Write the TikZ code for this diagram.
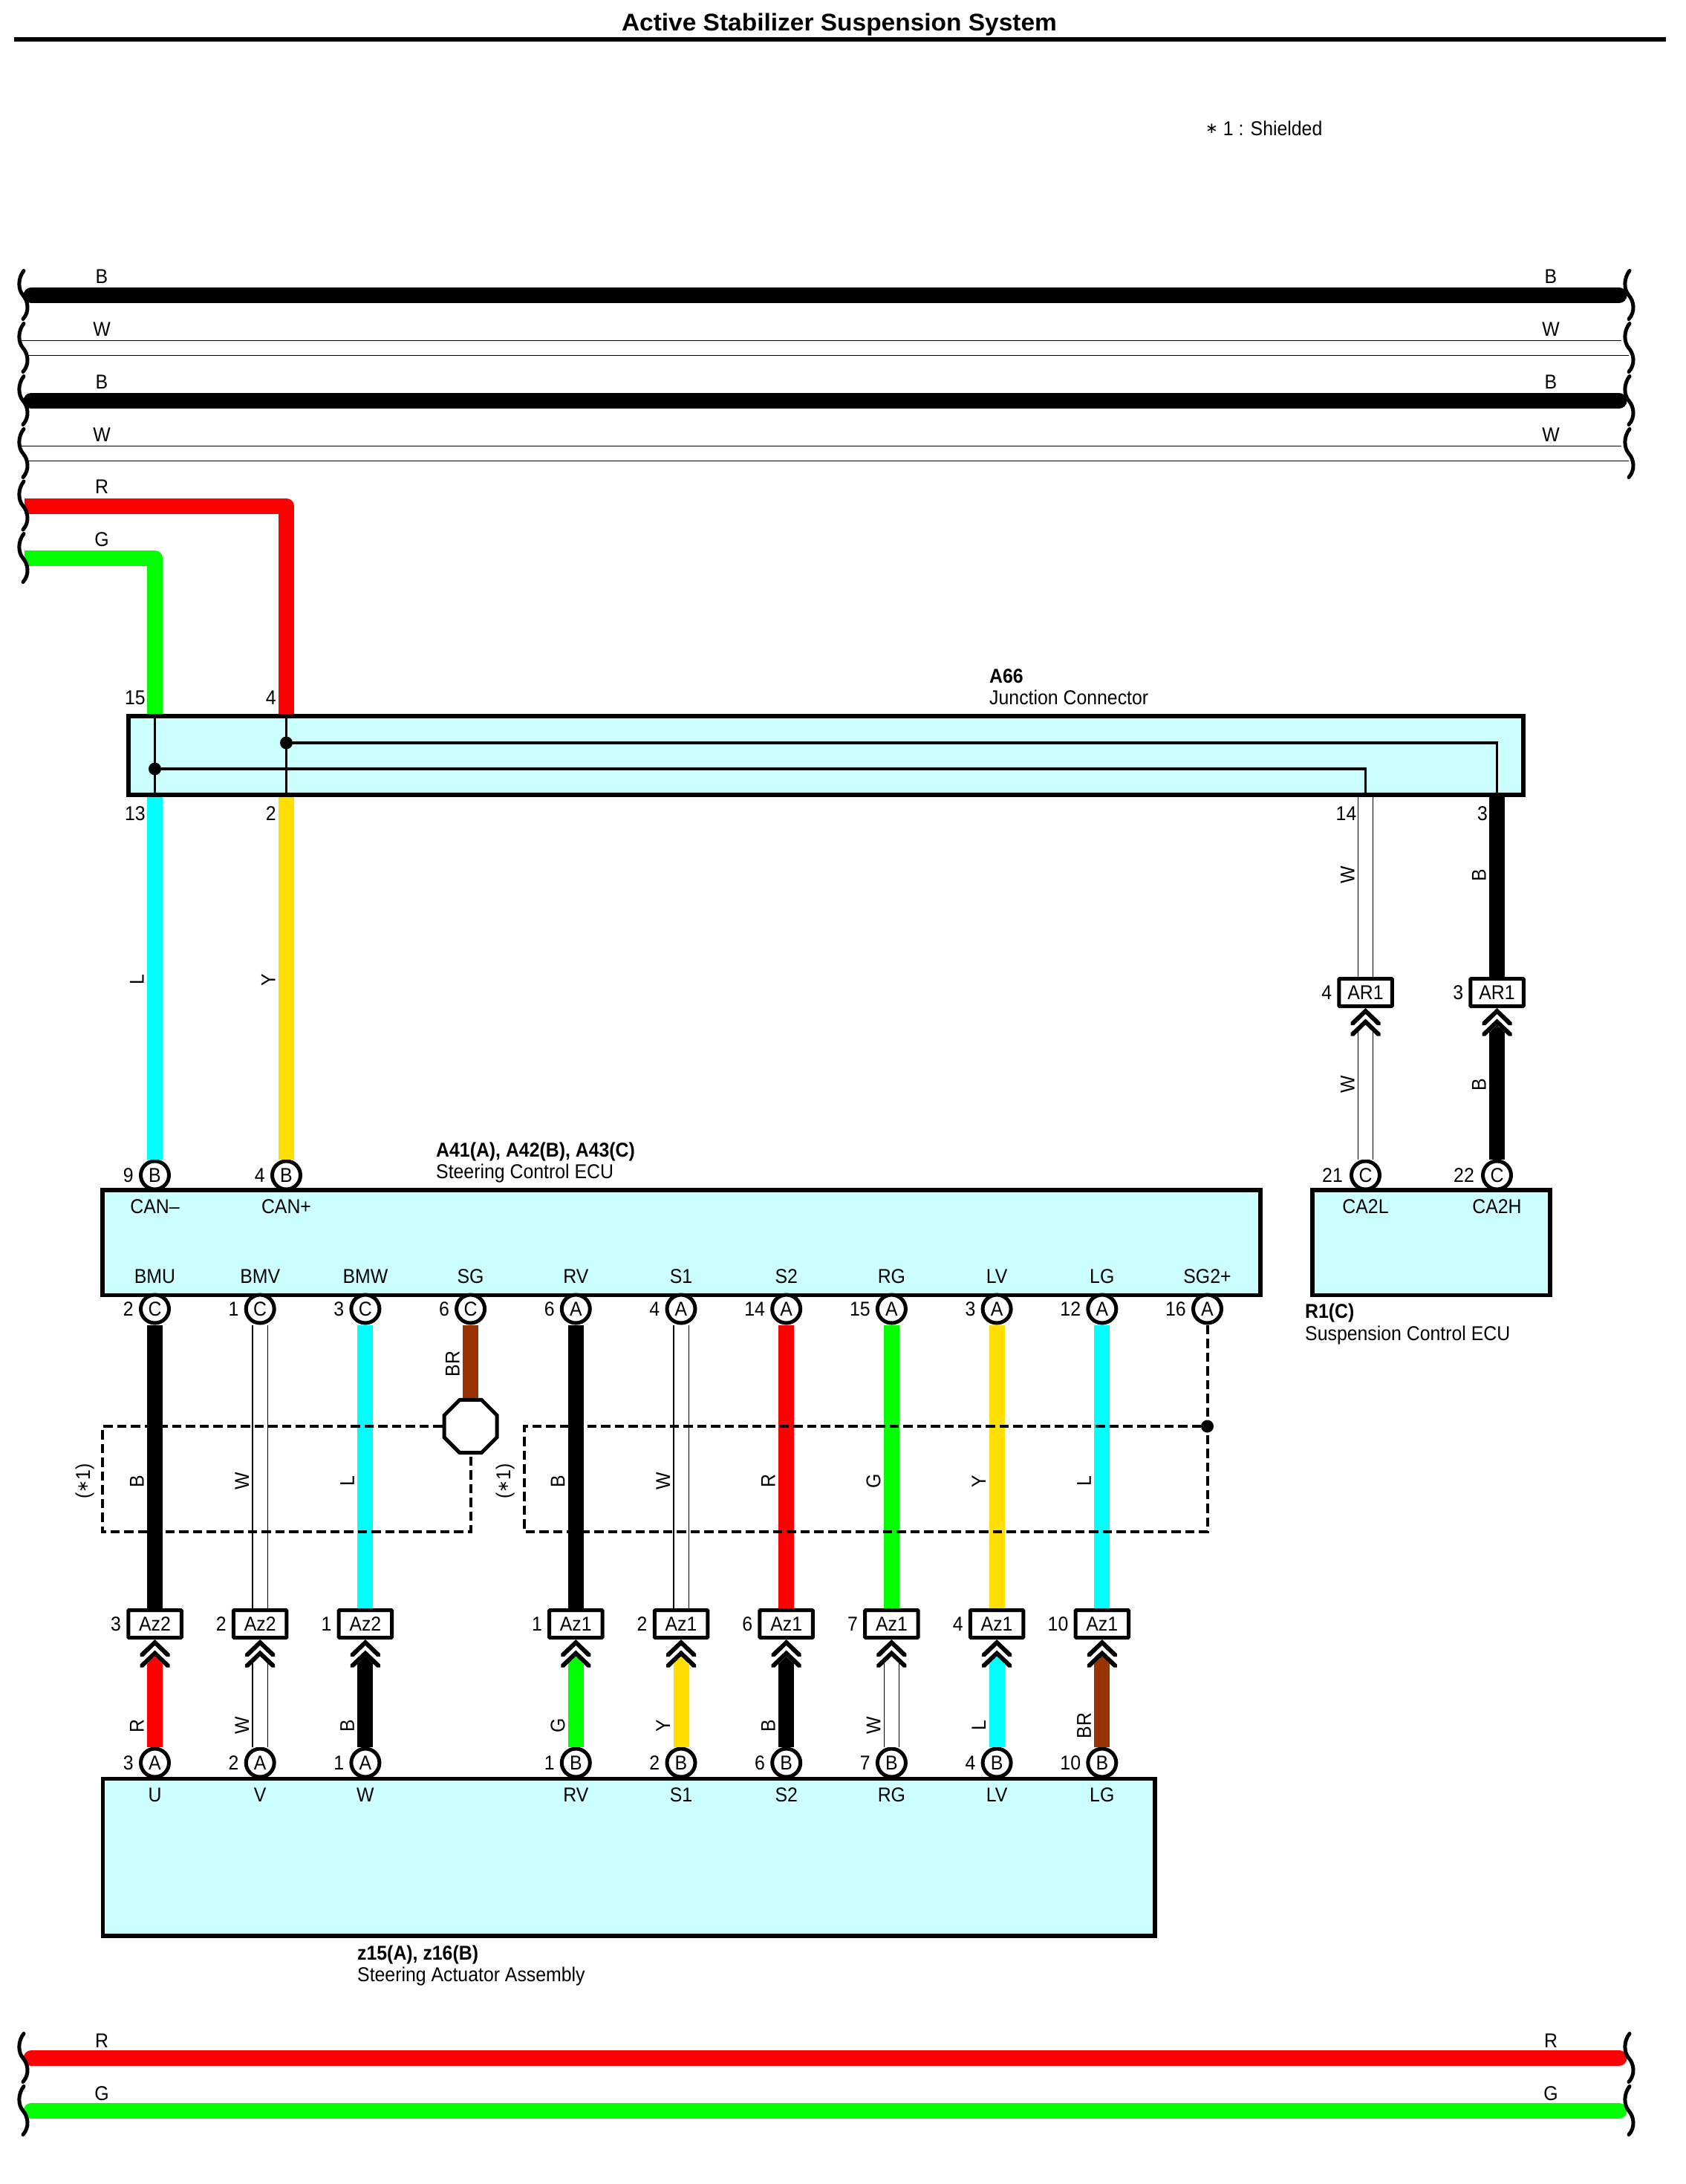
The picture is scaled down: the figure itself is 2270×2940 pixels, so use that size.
\documentclass[tikz,border=0pt]{standalone}
\usepackage{fontspec}
\setmainfont[FakeStretch=0.92]{Liberation Sans}
\newfontfamily\titlefont[FakeStretch=1.03]{Liberation Sans}
\newfontfamily\astfont{DejaVu Sans}
\newcommand{\shieldast}{\raisebox{3pt}{\astfont\fontsize{20}{20}\selectfont ∗}}
\usepackage{tikz}
\usetikzlibrary{positioning, shapes.geometric}
\definecolor{wirered}{HTML}{FF0000}
\definecolor{wiregreen}{HTML}{00FF00}
\definecolor{wirecyan}{HTML}{00FFFF}
\definecolor{wireyellow}{HTML}{FFDF00}
\definecolor{wirebrown}{HTML}{993300}
\definecolor{boxcyan}{HTML}{CCFFFF}
\tikzset{
    every node/.style={font=\fontsize{27}{30}\selectfont, inner sep=0pt},
    ecubox/.style={rectangle, draw=black, line width=5.5pt, fill=boxcyan},
    pin/.style={circle, draw=black, line width=5pt, fill=white, minimum size=38pt},
    conn/.style={rectangle, draw=black, line width=5pt, fill=white, minimum width=71.5pt, minimum height=37pt, rounded corners=1pt},
    num/.style={},
    numat/.style={anchor=east},
    term/.style={anchor=base},
    txt/.style={anchor=base west},
    wl/.style={anchor=base},
    vl/.style={rotate=90, anchor=base},
    jdot/.style={circle, fill=black, minimum size=17pt},
    jline/.style={line width=3.5pt},
    hair/.style={line width=1.4pt},
    shield/.style={line width=4pt, dash pattern=on 12.5pt off 6pt},
    wireB/.style={line width=21pt, draw=black},
    wireR/.style={line width=21pt, draw=wirered},
    wireG/.style={line width=21pt, draw=wiregreen},
    wireL/.style={line width=21pt, draw=wirecyan},
    wireY/.style={line width=21pt, draw=wireyellow},
    wireBR/.style={line width=21pt, draw=wirebrown},
    wireW/.style={line width=1.4pt, draw=black, double=white, double distance=19pt},
    bus/.style={line cap=round},
    buscorner/.style={line join=round},
    wave/.pic={
        \draw[line width=5pt, line cap=round] (32,-33) .. controls (24,-23) and (24,-8) .. (31,0) .. controls (38,8) and (40,22) .. (31,32);
    },
    plug/.pic={
        \fill[#1] (0,22.5) -- (10.5,33) -- (-10.5,33) -- cycle;
        \fill (0,0) -- (20,19) -- (20,23) -- (15.5,23) -- (0,8) -- (-15.5,23) -- (-20,23) -- (-20,19) -- cycle;
        \fill (0,14.5) -- (20,33.5) -- (20,37.5) -- (15.5,37.5) -- (0,22.5) -- (-15.5,37.5) -- (-20,37.5) -- (-20,33.5) -- cycle;
        \coordinate (-tip) at (0,32);
    },
}
\begin{document}
\begin{tikzpicture}[x=1pt, y=-1pt]
    \useasboundingbox (0,0) rectangle (2270,2940);

    \node[anchor=base, font=\fontsize{32.5}{36}\titlefont\bfseries] (title) at (1130,41.5) {Active Stabilizer Suspension System};
    \coordinate (ruleL) at (19,53);
    \coordinate (ruleR) at (2243,53);
    \draw[line width=5.5pt] (ruleL)--(ruleR);
    \node[txt] (note) at (1623,182) {\shieldast{} 1 : Shielded};

    \coordinate (busB1L) at (42,397.5);
    \coordinate (busB1R) at (2180,397.5);
    \coordinate (busB2L) at (42,539.5);
    \coordinate (busB2R) at (2180,539.5);
    \coordinate (busRL) at (33,681);
    \coordinate (busGL) at (33,751.5);
    \coordinate (busR2L) at (42,2770.5);
    \coordinate (busR2R) at (2180,2770.5);
    \coordinate (busG2L) at (42,2841.5);
    \coordinate (busG2R) at (2180,2841.5);

    \node[ecubox, minimum width=1878pt, minimum height=106pt] (jc) at (1112,1017) {};
    \node[ecubox, minimum width=1559pt, minimum height=141.5pt] (ecu) at (917.5,1672.75) {};
    \node[ecubox, minimum width=320pt, minimum height=141.5pt] (susp) at (1927,1672.75) {};
    \node[ecubox, minimum width=1416.5pt, minimum height=211.5pt] (act) at (846.75,2500.25) {};

    \node[pin] (pCANm) at (208.5,1582) {B}; \node[num, left=7pt of pCANm] (nCANm) {9};
    \node[pin] (pCANp) at (385.5,1582) {B}; \node[num, left=7pt of pCANp] (nCANp) {4};
    \node[pin] (pCAL) at (1838.5,1582) {C}; \node[num, left=9pt of pCAL] (nCAL) {21};
    \node[pin] (pCAH) at (2015.5,1582) {C}; \node[num, left=9pt of pCAH] (nCAH) {22};

    \node[pin] (pBMU) at (208.5,1762) {C}; \node[num, left=7pt of pBMU] (nBMU) {2};
    \node[pin] (pBMV) at (350.2,1762) {C}; \node[num, left=7pt of pBMV] (nBMV) {1};
    \node[pin] (pBMW) at (491.9,1762) {C}; \node[num, left=7pt of pBMW] (nBMW) {3};
    \node[pin] (pSG) at (633.6,1762) {C}; \node[num, left=7pt of pSG] (nSG) {6};
    \node[pin] (pRV) at (775.3,1762) {A}; \node[num, left=7pt of pRV] (nRV) {6};
    \node[pin] (pSa) at (917,1762) {A}; \node[num, left=7pt of pSa] (nSa) {4};
    \node[pin] (pSb) at (1058.7,1762) {A}; \node[num, left=7pt of pSb] (nSb) {14};
    \node[pin] (pRG) at (1200.4,1762) {A}; \node[num, left=7pt of pRG] (nRG) {15};
    \node[pin] (pLV) at (1342.1,1762) {A}; \node[num, left=7pt of pLV] (nLV) {3};
    \node[pin] (pLG) at (1483.8,1762) {A}; \node[num, left=7pt of pLG] (nLG) {12};
    \node[pin] (pSGp) at (1625.5,1762) {A}; \node[num, left=7pt of pSGp] (nSGp) {16};

    \node[pin] (qU) at (208.5,2373) {A}; \node[num, left=7pt of qU] (mU) {3};
    \node[pin] (qV) at (350.2,2373) {A}; \node[num, left=7pt of qV] (mV) {2};
    \node[pin] (qW) at (491.9,2373) {A}; \node[num, left=7pt of qW] (mW) {1};
    \node[pin] (qRV) at (775.3,2373) {B}; \node[num, left=7pt of qRV] (mRV) {1};
    \node[pin] (qSa) at (917,2373) {B}; \node[num, left=7pt of qSa] (mSa) {2};
    \node[pin] (qSb) at (1058.7,2373) {B}; \node[num, left=7pt of qSb] (mSb) {6};
    \node[pin] (qRG) at (1200.4,2373) {B}; \node[num, left=7pt of qRG] (mRG) {7};
    \node[pin] (qLV) at (1342.1,2373) {B}; \node[num, left=7pt of qLV] (mLV) {4};
    \node[pin] (qLG) at (1483.8,2373) {B}; \node[num, left=7pt of qLG] (mLG) {10};

    \node[conn] (arL) at (1838.5,1336) {AR1}; \node[num, left=7pt of arL] (naL) {4};
    \node[conn] (arH) at (2015.5,1336) {AR1}; \node[num, left=7pt of arH] (naH) {3};
    \node[conn] (azU) at (208.5,2186) {Az2}; \node[num, left=7pt of azU] (nzU) {3};
    \node[conn] (azV) at (350.2,2186) {Az2}; \node[num, left=7pt of azV] (nzV) {2};
    \node[conn] (azW) at (491.9,2186) {Az2}; \node[num, left=7pt of azW] (nzW) {1};
    \node[conn] (azRV) at (775.3,2186) {Az1}; \node[num, left=7pt of azRV] (nzRV) {1};
    \node[conn] (azSa) at (917,2186) {Az1}; \node[num, left=7pt of azSa] (nzSa) {2};
    \node[conn] (azSb) at (1058.7,2186) {Az1}; \node[num, left=7pt of azSb] (nzSb) {6};
    \node[conn] (azRG) at (1200.4,2186) {Az1}; \node[num, left=7pt of azRG] (nzRG) {7};
    \node[conn] (azLV) at (1342.1,2186) {Az1}; \node[num, left=7pt of azLV] (nzLV) {4};
    \node[conn] (azLG) at (1483.8,2186) {Az1}; \node[num, left=7pt of azLG] (nzLG) {10};

    \pic (plArL) at (arL.south) {plug=white};
    \pic (plArH) at (arH.south) {plug=black};
    \pic (plU) at (azU.south) {plug=wirered};
    \pic (plV) at (azV.south) {plug=white};
    \pic (plW) at (azW.south) {plug=black};
    \pic (plRV) at (azRV.south) {plug=wiregreen};
    \pic (plSa) at (azSa.south) {plug=wireyellow};
    \pic (plSb) at (azSb.south) {plug=black};
    \pic (plRG) at (azRG.south) {plug=white};
    \pic (plLV) at (azLV.south) {plug=wirecyan};
    \pic (plLG) at (azLG.south) {plug=wirebrown};

    \node[regular polygon, regular polygon sides=8, draw=black, line width=5pt, fill=white, minimum size=77pt] (oct) at (633.6,1920) {};

    \draw[wireB, bus] (busB1L)--(busB1R);
    \draw[wireB, bus] (busB2L)--(busB2R);
    \draw[hair] (29,458.5)--(2183,458.5);
    \draw[hair] (38,478.5)--(2193,478.5);
    \draw[hair] (29,600.5)--(2183,600.5);
    \draw[hair] (38,620.5)--(2193,620.5);
    \draw[wireR, buscorner] (busRL)-|(pCANp |- jc.north);
    \draw[wireG, buscorner] (busGL)-|(pCANm |- jc.north);
    \draw[wireR, bus] (busR2L)--(busR2R);
    \draw[wireG, bus] (busG2L)--(busG2R);

    \draw[jline] (pCANm |- jc.north)--(pCANm |- jc.south);
    \draw[jline] (pCANp |- jc.north)--(pCANp |- jc.south);
    \node[jdot] (dotG) at (208.5,1035) {};
    \node[jdot] (dotR) at (385.5,1000) {};
    \draw[jline] (dotR)-|(pCAH |- jc.south);
    \draw[jline] (dotG)-|(pCAL |- jc.south);

    \draw[wireL] (pCANm |- jc.south)--(pCANm);
    \draw[wireY] (pCANp |- jc.south)--(pCANp);
    \draw[wireW] (arL |- jc.south)--(arL);
    \draw[wireB] (arH |- jc.south)--(arH);
    \draw[wireW] (plArL-tip)--(pCAL);
    \draw[wireB] (plArH-tip)--(pCAH);

    \draw[wireB] (pBMU)--(azU);
    \draw[wireW] (pBMV)--(azV);
    \draw[wireL] (pBMW)--(azW);
    \draw[wireBR] (pSG)--(oct);
    \draw[wireB] (pRV)--(azRV);
    \draw[wireW] (pSa)--(azSa);
    \draw[wireR] (pSb)--(azSb);
    \draw[wireG] (pRG)--(azRG);
    \draw[wireY] (pLV)--(azLV);
    \draw[wireL] (pLG)--(azLG);

    \draw[wireR] (plU-tip)--(qU);
    \draw[wireW] (plV-tip)--(qV);
    \draw[wireB] (plW-tip)--(qW);
    \draw[wireG] (plRV-tip)--(qRV);
    \draw[wireY] (plSa-tip)--(qSa);
    \draw[wireB] (plSb-tip)--(qSb);
    \draw[wireW] (plRG-tip)--(qRG);
    \draw[wireL] (plLV-tip)--(qLV);
    \draw[wireBR] (plLG-tip)--(qLG);

    \coordinate (shA) at (138,2062);
    \coordinate (shB) at (706,2062);
    \node[jdot] (dotS) at (1625.5,1920) {};
    \draw[shield] (oct.west)-|(shA)-|(oct.south);
    \draw[shield] (pSGp)|-(shB)|-(dotS);

    \pic at (0,397.5) {wave};
    \pic at (0,468.5) {wave};
    \pic at (0,539.5) {wave};
    \pic at (0,610.5) {wave};
    \pic at (0,681) {wave};
    \pic at (0,751.5) {wave};
    \pic at (0,2770.5) {wave};
    \pic at (0,2841.5) {wave};
    \pic at (2162,397.5) {wave};
    \pic at (2162,468.5) {wave};
    \pic at (2162,539.5) {wave};
    \pic at (2162,610.5) {wave};
    \pic at (2162,2770.5) {wave};
    \pic at (2162,2841.5) {wave};

    \node[wl] (lbB1) at (137,381.5) {B};
    \node[wl] (lbW1) at (137,452) {W};
    \node[wl] (lbB2) at (137,523.5) {B};
    \node[wl] (lbW2) at (137,594) {W};
    \node[wl] (lbR) at (137,664) {R};
    \node[wl] (lbG) at (137,735.5) {G};
    \node[wl] (lbB3) at (2088,381.5) {B};
    \node[wl] (lbW3) at (2088,452) {W};
    \node[wl] (lbB4) at (2088,523.5) {B};
    \node[wl] (lbW4) at (2088,594) {W};
    \node[wl] (lbR2) at (137,2756) {R};
    \node[wl] (lbG2) at (137,2827) {G};
    \node[wl] (lbR3) at (2088,2756) {R};
    \node[wl] (lbG3) at (2088,2827) {G};

    \node[numat] (n15) at (196,939) {15};
    \node[numat] (n4) at (372,939) {4};
    \node[numat] (n13) at (196,1095) {13};
    \node[numat] (n2) at (372,1095) {2};
    \node[numat] (n14) at (1826.5,1095) {14};
    \node[numat] (n3) at (2003,1095) {3};

    \node[vl] (vL1) at (193.5,1319) {L};
    \node[vl] (vY1) at (370.5,1319) {Y};
    \node[vl] (vW1) at (1823.5,1178) {W};
    \node[vl] (vB1) at (2000.5,1178) {B};
    \node[vl] (vW2) at (1823.5,1460) {W};
    \node[vl] (vB2) at (2000.5,1460) {B};

    \node[vl] (vBR) at (618.6,1836) {BR};
    \node[vl] (vBMU) at (193.5,1994) {B};
    \node[vl] (vBMV) at (335.2,1994) {W};
    \node[vl] (vBMW) at (476.9,1994) {L};
    \node[vl] (vRV) at (760.3,1994) {B};
    \node[vl] (vSa) at (902,1994) {W};
    \node[vl] (vSb) at (1043.7,1994) {R};
    \node[vl] (vRG) at (1185.4,1994) {G};
    \node[vl] (vLV) at (1327.1,1994) {Y};
    \node[vl] (vLG) at (1468.8,1994) {L};
    \node[vl] (vsA) at (121,1994) {(\shieldast{}1)};
    \node[vl] (vsB) at (687,1994) {(\shieldast{}1)};

    \node[vl] (vU) at (193.5,2323) {R};
    \node[vl] (vV) at (335.2,2323) {W};
    \node[vl] (vW) at (476.9,2323) {B};
    \node[vl] (vRVb) at (760.3,2323) {G};
    \node[vl] (vSab) at (902,2323) {Y};
    \node[vl] (vSbb) at (1043.7,2323) {B};
    \node[vl] (vRGb) at (1185.4,2323) {W};
    \node[vl] (vLVb) at (1327.1,2323) {L};
    \node[vl] (vLGb) at (1468.8,2323) {BR};

    \node[term] (tCANm) at (208.5,1633) {CAN–};
    \node[term] (tCANp) at (385.5,1633) {CAN+};
    \node[term] (tCAL) at (1838.5,1633) {CA2L};
    \node[term] (tCAH) at (2015.5,1633) {CA2H};
    \node[term] (tBMU) at (208.5,1727) {BMU};
    \node[term] (tBMV) at (350.2,1727) {BMV};
    \node[term] (tBMW) at (491.9,1727) {BMW};
    \node[term] (tSG) at (633.6,1727) {SG};
    \node[term] (tRV) at (775.3,1727) {RV};
    \node[term] (tSa) at (917,1727) {S1};
    \node[term] (tSb) at (1058.7,1727) {S2};
    \node[term] (tRG) at (1200.4,1727) {RG};
    \node[term] (tLV) at (1342.1,1727) {LV};
    \node[term] (tLG) at (1483.8,1727) {LG};
    \node[term] (tSGp) at (1625.5,1727) {SG2+};
    \node[term] (uU) at (208.5,2425) {U};
    \node[term] (uV) at (350.2,2425) {V};
    \node[term] (uW) at (491.9,2425) {W};
    \node[term] (uRV) at (775.3,2425) {RV};
    \node[term] (uSa) at (917,2425) {S1};
    \node[term] (uSb) at (1058.7,2425) {S2};
    \node[term] (uRG) at (1200.4,2425) {RG};
    \node[term] (uLV) at (1342.1,2425) {LV};
    \node[term] (uLG) at (1483.8,2425) {LG};

    \node[txt, font=\fontsize{27}{30}\bfseries] (jcA) at (1332,919) {A66};
    \node[txt] (jcB) at (1332,948) {Junction Connector};
    \node[txt, font=\fontsize{27}{30}\bfseries] (ecuA) at (587,1557) {A41(A), A42(B), A43(C)};
    \node[txt] (ecuB) at (587,1586) {Steering Control ECU};
    \node[txt, font=\fontsize{27}{30}\bfseries] (suspA) at (1757,1774) {R1(C)};
    \node[txt] (suspB) at (1757,1804) {Suspension Control ECU};
    \node[txt, font=\fontsize{27}{30}\bfseries] (actA) at (481,2638) {z15(A), z16(B)};
    \node[txt] (actB) at (481,2667) {Steering Actuator Assembly};
\end{tikzpicture}
\end{document}
